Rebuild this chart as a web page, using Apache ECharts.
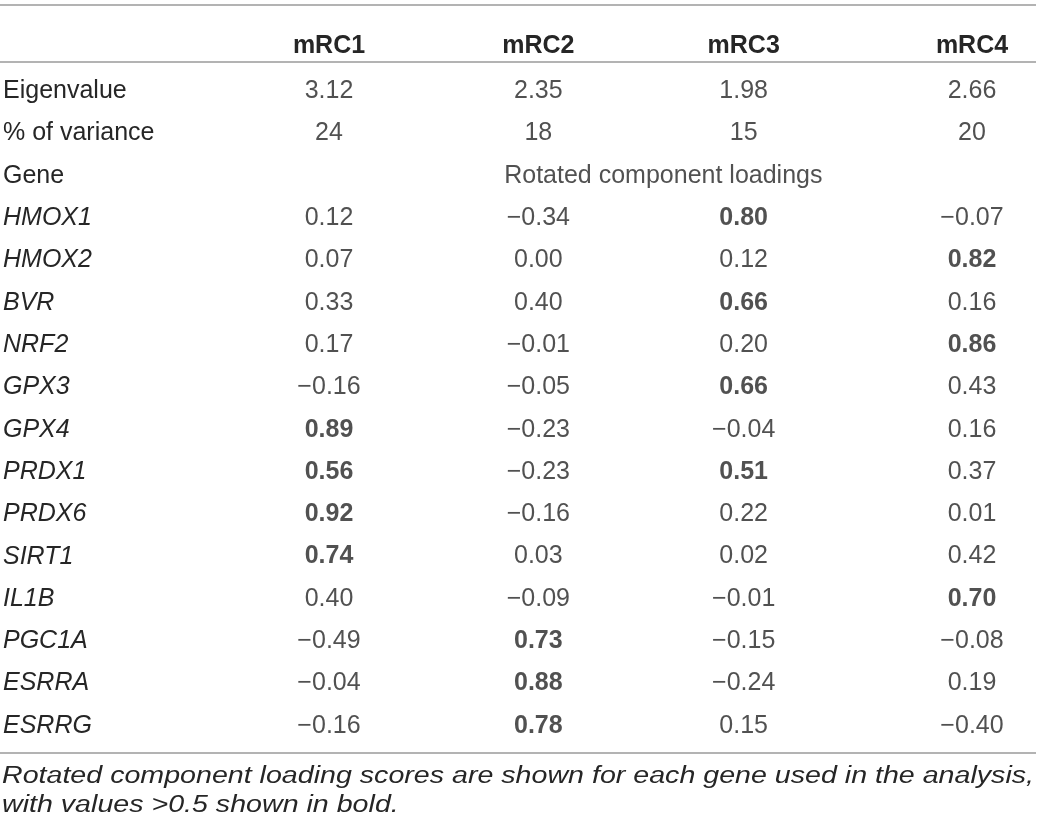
<!DOCTYPE html>
<html>
<head>
<meta charset="utf-8">
<script src="https://cdn.jsdelivr.net/npm/echarts@6/dist/echarts.min.js"></script>
<style>
  html, body { margin: 0; padding: 0; background: #fff; }
  #main { width: 1039px; height: 829px; }
</style>
</head>
<body>
<div id="main"></div>
<script>
// columns and rows of the table
var components = ['mRC1', 'mRC2', 'mRC3', 'mRC4'];
var summaryRows = ['Eigenvalue', '% of variance', 'Gene'];
var genes = ['HMOX1', 'HMOX2', 'BVR', 'NRF2', 'GPX3', 'GPX4', 'PRDX1', 'PRDX6',
  'SIRT1', 'IL1B', 'PGC1A', 'ESRRA', 'ESRRG'];

var eigenvalues = [3.12, 2.35, 1.98, 2.66];
var variancePct = [24, 18, 15, 20];

// rotated component loadings, one array per component
var mRC1 = [0.12, 0.07, 0.33, 0.17, -0.16, 0.89, 0.56, 0.92, 0.74, 0.40, -0.49, -0.04, -0.16];
var mRC2 = [-0.34, 0.00, 0.40, -0.01, -0.05, -0.23, -0.23, -0.16, 0.03, -0.09, 0.73, 0.88, 0.78];
var mRC3 = [0.80, 0.12, 0.66, 0.20, 0.66, -0.04, 0.51, 0.22, 0.02, -0.01, -0.15, -0.24, 0.15];
var mRC4 = [-0.07, 0.82, 0.16, 0.86, 0.43, 0.16, 0.37, 0.01, 0.42, 0.70, -0.08, 0.19, -0.40];
var loadings = [mRC1, mRC2, mRC3, mRC4];

var spanLabel = 'Rotated component loadings';
var footnote = ['Rotated component loading scores are shown for each gene used in the analysis,',
  'with values >0.5 shown in bold.'];
var boldCutoff = 0.5;

var rows = summaryRows.concat(genes);
var FONT = '"Liberation Sans", Arial, sans-serif';
var INK = '#262626';
var RULE = '#9a9a9a';
// small nudges so each column sits where the printed one does
var colShift = [0, -5, -14, 0];

function fmt(v) {
  return v.toFixed(2).replace('-', '\u2212');
}

// the printed footnote is set wider than the body text, stretch it to the rule width
var noteFont = 'italic 23px ' + FONT;
var ctx = document.createElement('canvas').getContext('2d');
ctx.font = noteFont;
var noteScale = 1032 / ctx.measureText(footnote[0]).width;

var series = components.map(function (c, ci) {
  var data = [];
  data.push({ value: [c, 'Eigenvalue', eigenvalues[ci]], label: { formatter: fmt(eigenvalues[ci]) } });
  data.push({ value: [c, '% of variance', variancePct[ci]], label: { formatter: String(variancePct[ci]) } });
  genes.forEach(function (g, gi) {
    var v = loadings[ci][gi];
    data.push({
      value: [c, g, v],
      label: { formatter: fmt(v), fontWeight: v > boldCutoff ? 'bold' : 'normal' }
    });
  });
  return {
    name: c,
    type: 'scatter',
    symbolSize: 1,
    itemStyle: { color: 'rgba(0,0,0,0)' },
    silent: true,
    data: data,
    label: {
      show: true,
      position: 'inside',
      offset: [colShift[ci], 0],
      fontFamily: FONT,
      fontSize: 25,
      color: INK
    }
  };
});

series.push({
  name: 'span',
  type: 'scatter',
  symbolSize: 1,
  itemStyle: { color: 'rgba(0,0,0,0)' },
  silent: true,
  data: [{ value: ['mRC2', 'Gene'], label: { formatter: spanLabel } }],
  label: {
    show: true,
    position: 'inside',
    offset: [120, 0],
    fontFamily: FONT,
    fontSize: 25,
    color: INK
  }
});

var headerRich = {};
components.forEach(function (c, ci) {
  headerRich['h' + ci] = {
    fontFamily: FONT, fontSize: 25, fontWeight: 'bold', color: INK,
    padding: [0, colShift[ci] < 0 ? -2 * colShift[ci] : 0, 0, 0]
  };
});

var myChart = echarts.init(document.getElementById('main'));

option = {
  backgroundColor: '#fff',
  animation: false,
  grid: { left: 329, right: 67, top: 70, bottom: 82 },
  xAxis: {
    type: 'category',
    data: components,
    position: 'top',
    boundaryGap: false,
    axisLine: { show: false },
    axisTick: { show: false },
    splitLine: { show: false },
    axisLabel: {
      margin: 24,
      verticalAlign: 'middle',
      formatter: function (val, idx) {
        return '{h' + idx + '|' + val + '}';
      },
      rich: headerRich
    }
  },
  yAxis: {
    type: 'category',
    data: rows,
    inverse: true,
    axisLine: { show: false },
    axisTick: { show: false },
    splitLine: { show: false },
    axisLabel: {
      align: 'left',
      margin: 326,
      fontFamily: FONT,
      fontSize: 25,
      color: INK,
      formatter: function (val) {
        return genes.indexOf(val) >= 0 ? '{g|' + val + '}' : val;
      },
      rich: {
        g: { fontFamily: FONT, fontSize: 25, fontStyle: 'italic', color: INK }
      }
    }
  },
  graphic: [
    { type: 'line', shape: { x1: 0, y1: 5, x2: 1036, y2: 5 }, style: { stroke: RULE, lineWidth: 1.5 } },
    { type: 'line', shape: { x1: 0, y1: 62, x2: 1036, y2: 62 }, style: { stroke: RULE, lineWidth: 1.5 } },
    { type: 'line', shape: { x1: 0, y1: 753, x2: 1036, y2: 753 }, style: { stroke: RULE, lineWidth: 1.5 } },
    {
      type: 'text', x: 2, y: 765, scaleX: noteScale,
      style: { text: footnote[0], font: noteFont, fill: INK }
    },
    {
      type: 'text', x: 2, y: 794, scaleX: noteScale,
      style: { text: footnote[1], font: noteFont, fill: INK }
    }
  ],
  series: series
};

myChart.setOption(option);
</script>
</body>
</html>
